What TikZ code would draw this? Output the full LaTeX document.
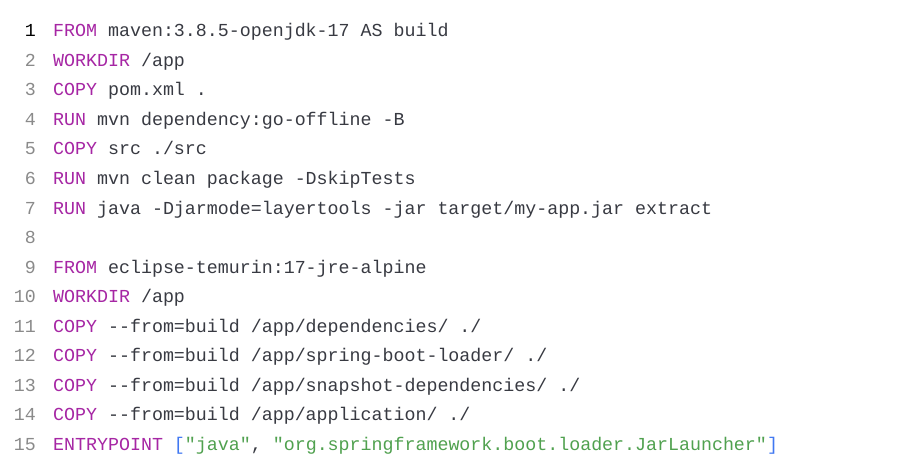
\documentclass[tikz,border=0pt]{standalone}
\usepackage{fontspec}
\setmonofont{Liberation Mono}
\definecolor{kw}{HTML}{A626A4}
\definecolor{txt}{HTML}{383A42}
\definecolor{str}{HTML}{50A14F}
\definecolor{brk}{HTML}{4078F2}
\definecolor{num}{HTML}{8A8A8A}
\newcommand{\K}[1]{\textcolor{kw}{#1}}
\newcommand{\St}[1]{\textcolor{str}{#1}}
\newcommand{\B}[1]{\textcolor{brk}{#1}}
\begin{document}
\begin{tikzpicture}[x=1pt,y=1pt,
  code/.style={anchor=base west,inner sep=0,font=\ttfamily\fontsize{18.3}{20}\selectfont,text=txt},
  lno/.style={anchor=base east,inner sep=0,font=\ttfamily\fontsize{18.3}{20}\selectfont,text=num}]
\useasboundingbox (0,0) rectangle (919,475);
\fill[white] (0,0) rectangle (919,475);
\def\Y#1{438-29.5*(#1-1)}
\node[lno,text=black] (n1) at (36,{\Y{1}}) {1};
\foreach \i in {2,...,15}{\node[lno] (n\i) at (36,{\Y{\i}}) {\i};}
\node[code] (c1) at (53,{\Y{1}}) {\K{FROM} maven:3.8.5-openjdk-17 AS build};
\node[code] (c2) at (53,{\Y{2}}) {\K{WORKDIR} /app};
\node[code] (c3) at (53,{\Y{3}}) {\K{COPY} pom.xml .};
\node[code] (c4) at (53,{\Y{4}}) {\K{RUN} mvn dependency:go-offline -B};
\node[code] (c5) at (53,{\Y{5}}) {\K{COPY} src ./src};
\node[code] (c6) at (53,{\Y{6}}) {\K{RUN} mvn clean package -DskipTests};
\node[code] (c7) at (53,{\Y{7}}) {\K{RUN} java -Djarmode=layertools -jar target/my-app.jar extract};
\node[code] (c9) at (53,{\Y{9}}) {\K{FROM} eclipse-temurin:17-jre-alpine};
\node[code] (c10) at (53,{\Y{10}}) {\K{WORKDIR} /app};
\node[code] (c11) at (53,{\Y{11}}) {\K{COPY} -{}-from=build /app/dependencies/ ./};
\node[code] (c12) at (53,{\Y{12}}) {\K{COPY} -{}-from=build /app/spring-boot-loader/ ./};
\node[code] (c13) at (53,{\Y{13}}) {\K{COPY} -{}-from=build /app/snapshot-dependencies/ ./};
\node[code] (c14) at (53,{\Y{14}}) {\K{COPY} -{}-from=build /app/application/ ./};
\node[code] (c15) at (53,{\Y{15}}) {\K{ENTRYPOINT} \B{[}\St{"java"}, \St{"org.springframework.boot.loader.JarLauncher"}\B{]}};
\end{tikzpicture}
\end{document}
